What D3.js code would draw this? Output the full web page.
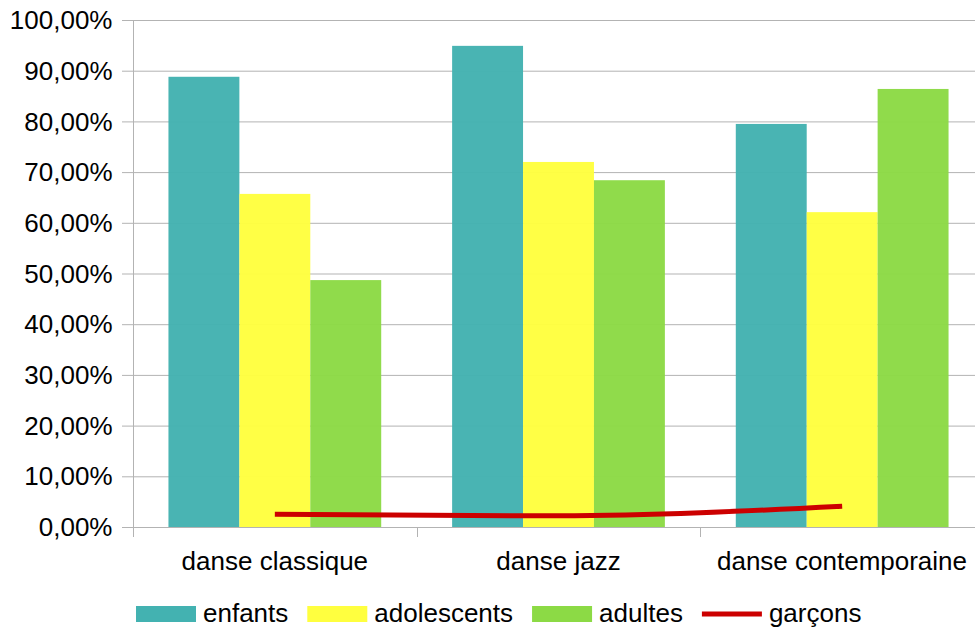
<!DOCTYPE html>
<html><head><meta charset="utf-8">
<script src="https://cdn.jsdelivr.net/npm/d3@7"></script>
<style>body{margin:0;background:#fff;}svg{display:block;font-family:"Liberation Sans",Arial,sans-serif;}</style>
</head><body>
<svg id="c" width="975" height="628"></svg>
<script>
const categories = ["danse classique", "danse jazz", "danse contemporaine"];
const seriesNames = ["enfants", "adolescents", "adultes"];
const enfants = [88.8, 94.9, 79.5];
const adolescents = [65.7, 72.0, 62.1];
const adultes = [48.7, 68.4, 86.4];
const garcons = [2.5, 2.2, 4.1];
const lineName = "garçons";
const yTicks = [0, 10, 20, 30, 40, 50, 60, 70, 80, 90, 100];
const colors = ["#43b2b1", "#ffff3f", "#8cda45"];
const lineColor = "#cc0000";

const svg = d3.select("#c");
const mLeft = 133, mRight = 984, mTop = 20, mBottom = 527;
const fs = 26;
const x = d3.scaleBand().domain(categories).range([mLeft, mRight]);
const xs = d3.scaleBand().domain(seriesNames).range([0, x.bandwidth()]).paddingOuter(0.5).paddingInner(0);
const y = d3.scaleLinear().domain([0, 100]).range([mBottom, mTop]);
const fmt = v => d3.format(".2f")(v).replace(".", ",") + "%";

// gridlines
svg.append("g").selectAll("line").data(yTicks).join("line")
  .attr("x1", mLeft - 11).attr("x2", 975)
  .attr("y1", d => y(d) + 0.5).attr("y2", d => y(d) + 0.5)
  .attr("stroke", "#b3b3b3").attr("stroke-width", 1);

// y labels
svg.append("g").selectAll("text").data(yTicks).join("text")
  .attr("x", 112.5).attr("y", d => y(d)).attr("dy", "0.35em")
  .attr("text-anchor", "end").attr("font-size", fs).attr("fill", "#000")
  .text(fmt);

// bars
const data = [enfants, adolescents, adultes];
seriesNames.forEach((s, si) => {
  svg.append("g").selectAll("rect").data(categories).join("rect")
    .attr("x", c => x(c) + xs(s))
    .attr("width", xs.bandwidth())
    .attr("y", (c, i) => y(data[si][i]))
    .attr("height", (c, i) => y(0) - y(data[si][i]))
    .attr("fill", colors[si]).attr("fill-opacity", 0.97);
});

// axes lines
svg.append("line").attr("x1", mLeft + 0.5).attr("x2", mLeft + 0.5).attr("y1", mTop).attr("y2", mBottom + 10)
  .attr("stroke", "#b3b3b3");
svg.append("line").attr("x1", mLeft).attr("x2", 975).attr("y1", mBottom + 0.5).attr("y2", mBottom + 0.5)
  .attr("stroke", "#b3b3b3");
svg.append("g").selectAll("line").data(categories.slice(1)).join("line")
  .attr("x1", c => Math.round(x(c)) + 0.5).attr("x2", c => Math.round(x(c)) + 0.5)
  .attr("y1", mBottom).attr("y2", mBottom + 10).attr("stroke", "#b3b3b3");

// x labels
svg.append("g").selectAll("text").data(categories).join("text")
  .attr("x", c => Math.min(x(c) + x.bandwidth() / 2, 842)).attr("y", 570)
  .attr("text-anchor", "middle").attr("font-size", fs).attr("fill", "#000")
  .text(d => d);

// line
const line = d3.line().x((d, i) => x(categories[i]) + x.bandwidth() / 2).y(d => y(d)).curve(d3.curveMonotoneX);
svg.append("path").datum(garcons).attr("d", line)
  .attr("fill", "none").attr("stroke", lineColor).attr("stroke-width", 5);

// legend
const lg = svg.append("g");
let lx = 136;
const ly = 613;
const items = seriesNames.map((s, i) => ({name: s, color: colors[i], type: "rect"}))
  .concat([{name: lineName, color: lineColor, type: "line"}]);
items.forEach(it => {
  if (it.type === "rect") {
    lg.append("rect").attr("x", lx).attr("y", ly - 7).attr("width", 60).attr("height", 16).attr("fill", it.color);
  } else {
    lg.append("line").attr("x1", lx).attr("x2", lx + 60).attr("y1", ly + 1).attr("y2", ly + 1)
      .attr("stroke", it.color).attr("stroke-width", 5);
  }
  const t = lg.append("text").attr("x", lx + 67).attr("y", ly).attr("dy", "0.35em")
    .attr("font-size", fs).attr("fill", "#000").text(it.name);
  lx = lx + 67 + t.node().getComputedTextLength() + 19;
});
</script>
</body></html>
